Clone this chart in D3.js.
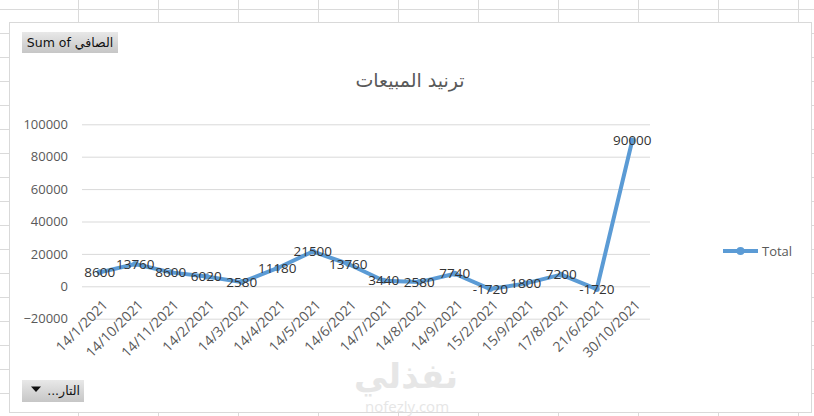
<!DOCTYPE html>
<html>
<head>
<meta charset="utf-8">
<script src="https://cdn.jsdelivr.net/npm/d3@7"></script>
<style>
  body { margin: 0; background: #fff; }
  svg { display: block; font-family: "Open Sans", "DejaVu Sans", sans-serif; }
</style>
</head>
<body>
<svg width="814" height="416"></svg>
<script>
// data
let dates = ['14/1/2021', '14/10/2021', '14/11/2021', '14/2/2021', '14/3/2021', '14/4/2021',
             '14/5/2021', '14/6/2021', '14/7/2021', '14/8/2021', '14/9/2021', '15/2/2021',
             '15/9/2021', '17/8/2021', '21/6/2021', '30/10/2021'];
let totals = [8600, 13760, 8600, 6020, 2580, 11180, 21500, 13760, 3440, 2580, 7740, -1720,
              1800, 7200, -1720, 90000];
let yTicks = [-20000, 0, 20000, 40000, 60000, 80000, 100000];

let svgWidth = 814, svgHeight = 416;
let blue = '#5b9bd5';

let svg = d3.select('svg');

// spreadsheet cells behind the chart
let sheet = svg.append('g').attr('stroke', '#dadada').attr('stroke-width', 1);
d3.range(78, svgWidth, 80).forEach(x => {
    sheet.append('line').attr('x1', x + 0.5).attr('x2', x + 0.5).attr('y1', 0).attr('y2', svgHeight);
});
d3.range(9, svgHeight, 24).forEach(y => {
    sheet.append('line').attr('x1', 0).attr('x2', svgWidth).attr('y1', y + 0.5).attr('y2', y + 0.5);
});

// chart area
svg.append('rect')
   .attr('x', 9.5).attr('y', 22.5)
   .attr('width', 802).attr('height', 390)
   .attr('fill', '#fff').attr('stroke', '#d9d9d9');

let plot = {left: 82, right: 650, top: 124.3, bottom: 318.7};

let xScale = d3.scalePoint()
               .domain(dates)
               .range([plot.left, plot.right])
               .padding(0.5);

let yScale = d3.scaleLinear()
               .domain([-20000, 100000])
               .range([plot.bottom, plot.top]);

// gridlines + y labels
let yAxis = svg.append('g')
               .attr('transform', `translate(${plot.left},0)`)
               .call(d3.axisLeft(yScale)
                       .tickValues(yTicks)
                       .tickSize(-(plot.right - plot.left))
                       .tickPadding(14)
                       .tickFormat(d3.format('d')));
yAxis.select('.domain').remove();
yAxis.selectAll('line').attr('stroke', '#d9d9d9');
yAxis.selectAll('text')
     .attr('fill', '#595959')
     .style('font-size', '13px')
     .style('font-family', '"Open Sans", sans-serif');

// category axis sits at zero
let xAxis = svg.append('g')
               .attr('transform', `translate(0,${yScale(0)})`)
               .call(d3.axisBottom(xScale).tickSize(0).tickPadding(0));
xAxis.select('.domain').remove();
xAxis.selectAll('text')
     .attr('fill', '#595959')
     .style('font-size', '14px')
     .style('font-family', '"Open Sans", sans-serif')
     .attr('text-anchor', 'end')
     .attr('dy', '0.35em')
     .attr('transform', 'translate(5,16) rotate(-45)');

// the series
let line = d3.line()
             .x((d, i) => xScale(dates[i]))
             .y(d => yScale(d));

svg.append('path')
   .datum(totals)
   .attr('d', line)
   .attr('fill', 'none')
   .attr('stroke', blue)
   .attr('stroke-width', 4)
   .attr('stroke-linejoin', 'round')
   .attr('stroke-linecap', 'round');

svg.selectAll('.dot')
   .data(totals)
   .enter()
   .append('circle')
   .attr('class', 'dot')
   .attr('cx', (d, i) => xScale(dates[i]))
   .attr('cy', d => yScale(d))
   .attr('r', 3)
   .attr('fill', blue);

svg.selectAll('.lbl')
   .data(totals)
   .enter()
   .append('text')
   .attr('class', 'lbl')
   .attr('x', (d, i) => xScale(dates[i]))
   .attr('y', d => yScale(d))
   .attr('dy', '0.35em')
   .attr('text-anchor', 'middle')
   .attr('fill', '#333')
   .style('font-size', '13.5px')
   .text(d => d);

// title
svg.append('text')
   .attr('x', 410).attr('y', 87)
   .attr('text-anchor', 'middle')
   .attr('fill', '#595959')
   .style('font-size', '19px')
   .style('font-family', '"DejaVu Sans", sans-serif')
   .text('ترنيد المبيعات');

// legend
let legend = svg.append('g').attr('transform', 'translate(723,251)');
legend.append('line').attr('x1', 0).attr('x2', 35).attr('stroke', blue).attr('stroke-width', 4);
legend.append('circle').attr('cx', 17.5).attr('r', 4).attr('fill', blue);
legend.append('text')
      .attr('x', 39).attr('dy', '0.35em')
      .attr('fill', '#595959')
      .style('font-size', '13px')
      .text('Total');

// pivot field buttons
let grad = svg.append('defs').append('linearGradient')
              .attr('id', 'btn').attr('x1', 0).attr('x2', 0).attr('y1', 0).attr('y2', 1);
grad.append('stop').attr('offset', '0%').attr('stop-color', '#e8e8e8');
grad.append('stop').attr('offset', '100%').attr('stop-color', '#c6c6c6');

svg.append('rect')
   .attr('x', 22).attr('y', 32).attr('width', 96).attr('height', 21)
   .attr('fill', 'url(#btn)');
svg.append('text')
   .attr('x', 70).attr('y', 43).attr('dy', '0.35em')
   .attr('text-anchor', 'middle')
   .attr('fill', '#111')
   .style('font-size', '12.5px')
   .style('font-family', '"DejaVu Sans", sans-serif')
   .text('Sum of الصافي');

svg.append('rect')
   .attr('x', 22).attr('y', 380).attr('width', 62).attr('height', 22)
   .attr('fill', 'url(#btn)');
svg.append('path')
   .attr('d', 'M31,386.5 L41,386.5 L36,392 Z')
   .attr('fill', '#111');
svg.append('text')
   .attr('x', 80).attr('y', 391).attr('dy', '0.35em')
   .attr('text-anchor', 'start')
   .attr('direction', 'rtl')
   .attr('fill', '#111')
   .style('font-size', '12.5px')
   .style('font-family', '"DejaVu Sans", sans-serif')
   .text('التار...');

// faint site watermark
svg.append('text')
   .attr('x', 406).attr('y', 388)
   .attr('text-anchor', 'middle')
   .attr('fill', '#e6e6e6')
   .style('font-size', '34px')
   .style('font-weight', 'bold')
   .style('font-family', '"DejaVu Sans", sans-serif')
   .text('نفذلي');
svg.append('text')
   .attr('x', 407).attr('y', 412)
   .attr('text-anchor', 'middle')
   .attr('fill', '#e6e6e6')
   .style('font-size', '15px')
   .text('nofezly.com');
</script>
</body>
</html>
